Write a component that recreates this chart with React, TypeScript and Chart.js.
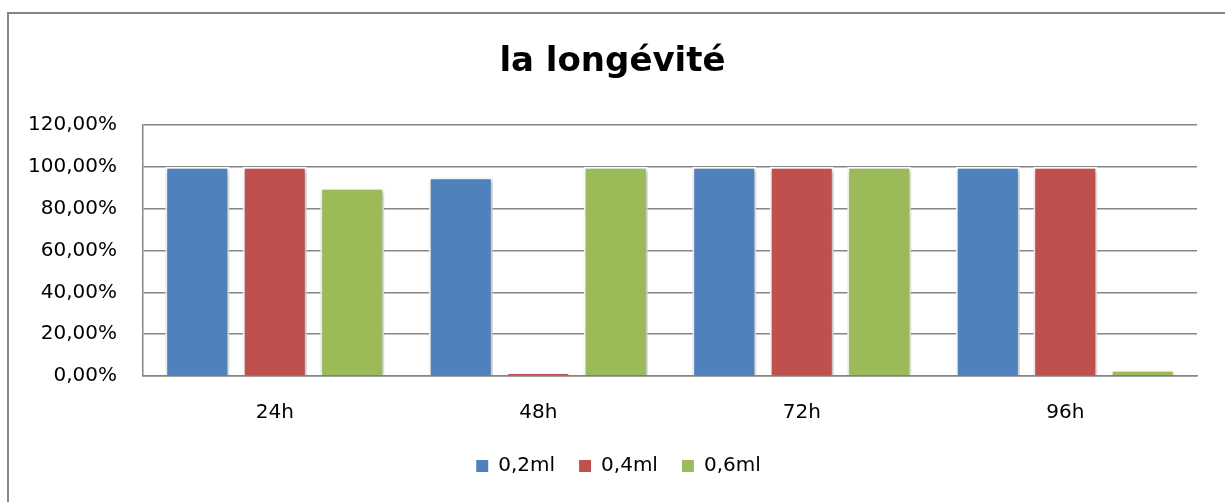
import React, { useEffect, useRef } from "react";
import { Chart, registerables } from "chart.js";

Chart.register(...registerables);

const categories = ["24h", "48h", "72h", "96h"];
const seriesLabels = ["0,2ml", "0,4ml", "0,6ml"];
const series02 = [100, 95, 100, 100];
const series04 = [100, 1.5, 100, 100];
const series06 = [90, 100, 100, 3];
const yTicks = [0, 20, 40, 60, 80, 100, 120];
const colors = ["#4F81BD", "#C0504D", "#9BBB59"];

const FONT = "'DejaVu Sans', sans-serif";

const shadowPlugin = {
  id: "barShadow",
  afterLayout(chart: any) {
    if (chart.legend) {
      chart.legend.left += 8;
      chart.legend.right += 8;
    }
    if (chart.titleBlock) {
      chart.titleBlock.left += 2;
      chart.titleBlock.right += 2;
    }
  },
  beforeDatasetsDraw(chart: any) {
    const ctx = chart.ctx;
    ctx.save();
    ctx.shadowColor = "rgba(0,0,0,0.35)";
    ctx.shadowBlur = 4;
    ctx.shadowOffsetX = 1;
    ctx.shadowOffsetY = 2;
  },
  afterDatasetsDraw(chart: any) {
    chart.ctx.restore();
  },
};

export default function App() {
  const ref = useRef<HTMLCanvasElement>(null);

  useEffect(() => {
    if (!ref.current) return;
    const data = [series02, series04, series06];
    const chart = new Chart(ref.current, {
      type: "bar",
      data: {
        labels: categories,
        datasets: seriesLabels.map((l, i) => ({
          label: l,
          data: data[i],
          backgroundColor: colors[i],
          borderColor: "#ffffff",
          borderWidth: 2,
          borderSkipped: "start",
          barPercentage: 0.826,
          categoryPercentage: 0.882,
        })),
      },
      options: {
        responsive: false,
        animation: false,
        layout: { padding: { left: 24, right: 28, top: 0, bottom: 16 } },
        plugins: {
          title: {
            display: true,
            text: "la longévité",
            color: "#000",
            font: { family: FONT, size: 34, weight: "bold" },
            padding: { top: 42, bottom: 42.2 },
          },
          legend: {
            position: "bottom",
            labels: {
              color: "#000",
              font: { family: FONT, size: 20 },
              boxWidth: 12,
              boxHeight: 12,
              padding: 24,
              useBorderRadius: false,
              generateLabels: (c: any) =>
                c.data.datasets.map((d: any, i: number) => ({
                  text: d.label,
                  fillStyle: colors[i],
                  strokeStyle: colors[i],
                  lineWidth: 0,
                  hidden: false,
                  datasetIndex: i,
                  fontColor: "#000",
                })),
            },
          },
          tooltip: { enabled: false },
        },
        scales: {
          x: {
            grid: { display: false, drawTicks: false },
            border: { display: true, color: "#868686", width: 1.5 },
            ticks: { color: "#000", font: { family: FONT, size: 20 }, padding: 25 },
            afterFit: (s: any) => {
              s.height = 56;
            },
          },
          y: {
            min: 0,
            max: 120,
            afterBuildTicks: (s: any) => {
              s.ticks = yTicks.map((v) => ({ value: v }));
            },
            grid: { color: "#868686", lineWidth: 1.5, drawTicks: false },
            border: { display: true, color: "#868686", width: 1.5 },
            ticks: {
              color: "#000",
              font: { family: FONT, size: 20 },
              padding: 26,
              callback: (v: any) => Number(v).toFixed(2).replace(".", ",") + "%",
            },
            afterFit: (s: any) => {
              s.width = 119;
            },
          },
        },
      },
      plugins: [shadowPlugin],
    });
    return () => chart.destroy();
  }, []);

  return (
    <div
      style={{
        position: "fixed",
        left: 0,
        top: 0,
        width: 1225,
        height: 502,
        overflow: "hidden",
        background: "#fff",
      }}
    >
      <div
        style={{
          position: "absolute",
          left: 7,
          top: 12,
          width: 1400,
          height: 700,
          borderTop: "2px solid #868686",
          borderLeft: "2px solid #868686",
        }}
      />
      <canvas
        ref={ref}
        width={1225}
        height={502}
        style={{ position: "absolute", left: 0, top: 0, width: 1225, height: 502 }}
      />
    </div>
  );
}
